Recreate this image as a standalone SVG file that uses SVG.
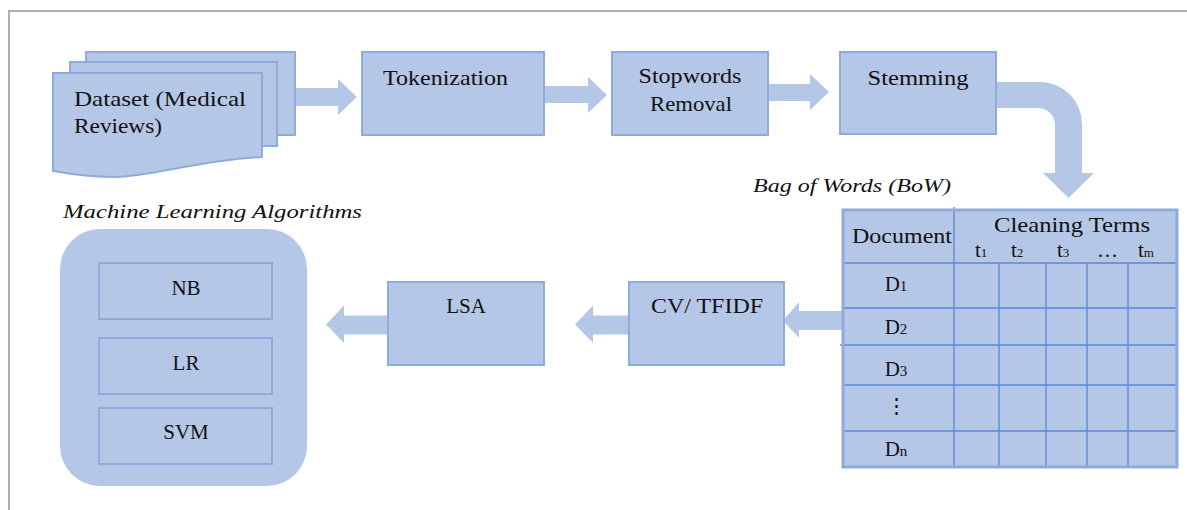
<svg xmlns="http://www.w3.org/2000/svg" width="1187" height="510" viewBox="0 0 1187 510">
<style>
.box{fill:#b4c7e7;stroke:#8faadc;stroke-width:2}
.arr{fill:#b4c7e7;stroke:none}
.t{font-family:"Liberation Serif","Times New Roman",serif;font-size:21px;fill:#111}
.it{font-family:"Liberation Serif","Times New Roman",serif;font-style:italic;font-size:19px;fill:#111}
.grid{stroke:#5b87d6;stroke-width:1.3;fill:none}
.c{text-anchor:middle}
</style>
<rect width="1187" height="510" fill="#fff"/>
<path d="M9,510 V11 H1187" fill="none" stroke="#b0b0b0" stroke-width="2"/>

<g id="connectors">
  <path class="arr" d="M295,88 H338 V79 L357,97 L338,115 V106 H295 Z"/>
  <path class="arr" d="M544,86 H588 V77 L607,95 L588,113 V103 H544 Z"/>
  <path class="arr" d="M768,84 H810 V74 L829,92 L810,110 V101 H768 Z"/>
  <path class="arr" d="M996,82 H1040 A42,42 0 0 1 1082,124 V173 H1094 L1068.5,198 L1043,173 H1055 V125 A17,17 0 0 0 1038,108 H996 Z"/>
  <path class="arr" d="M843,311 H799 V302 L783,320.5 L799,338 V330 H843 Z"/>
  <path class="arr" d="M629,315.5 H593 V305.5 L575,324.5 L593,343 V334.5 H629 Z"/>
  <path class="arr" d="M388,315.5 H344 V305.5 L326,324.5 L344,343 V334.5 H388 Z"/>
</g>

<g id="dataset">
  <rect class="box" x="86" y="52" width="209" height="83"/>
  <rect class="box" x="70" y="62" width="207" height="84"/>
  <path class="box" d="M53,73 H262 V157 C200,160 150,177 115,177 C90,177 70,174 53,171 Z"/>
  <text class="t" x="74" y="106" textLength="172" lengthAdjust="spacingAndGlyphs">Dataset (Medical</text>
  <text class="t" x="74" y="133" textLength="88" lengthAdjust="spacingAndGlyphs">Reviews)</text>
</g>

<g id="tokenization">
  <rect class="box" x="362" y="52" width="182" height="83"/>
  <text class="t" x="383" y="85" textLength="125" lengthAdjust="spacingAndGlyphs">Tokenization</text>
</g>

<g id="stopwords">
  <rect class="box" x="612" y="52" width="156" height="83"/>
  <text class="t c" x="690" y="83" textLength="103" lengthAdjust="spacingAndGlyphs">Stopwords</text>
  <text class="t c" x="691" y="111" textLength="82" lengthAdjust="spacingAndGlyphs">Removal</text>
</g>

<g id="stemming">
  <rect class="box" x="840" y="52" width="156" height="82"/>
  <text class="t c" x="918" y="85" textLength="101" lengthAdjust="spacingAndGlyphs">Stemming</text>
</g>

<g id="bow">
  <text class="it" x="753" y="192" textLength="198" lengthAdjust="spacingAndGlyphs">Bag of Words (BoW)</text>
  <rect x="843" y="210" width="334" height="257" fill="#b4c7e7"/>
  <path class="grid" d="M843,263 H1177 M843,308 H1177 M840,345 H1177 M843,385 H1177 M843,431 H1177 M954,207 V467 M999,263 V467 M1046,263 V467 M1087,263 V467 M1128,263 V467"/>
  <rect x="843" y="210" width="334" height="257" fill="none" stroke="#8faadc" stroke-width="3"/>
  <text class="t" x="852" y="243" textLength="100" lengthAdjust="spacingAndGlyphs">Document</text>
  <text class="t" x="994" y="232" textLength="156" lengthAdjust="spacingAndGlyphs">Cleaning Terms</text>
  <text class="t" x="975" y="257" font-size="18">t<tspan font-size="13">1</tspan></text>
  <text class="t" x="1011" y="257" font-size="18">t<tspan font-size="13">2</tspan></text>
  <text class="t" x="1057" y="257" font-size="18">t<tspan font-size="13">3</tspan></text>
  <text class="t" x="1097" y="257" font-size="18">…</text>
  <text class="t" x="1138" y="257" font-size="18">t<tspan font-size="13">m</tspan></text>
  <text class="t c" x="896" y="291">D<tspan font-size="15">1</tspan></text>
  <text class="t c" x="896" y="334">D<tspan font-size="15">2</tspan></text>
  <text class="t c" x="896" y="376">D<tspan font-size="15">3</tspan></text>
  <text class="t c" x="896" y="413">⋮</text>
  <text class="t c" x="896" y="456">D<tspan font-size="15">n</tspan></text>
</g>

<g id="cv-tfidf">
  <rect class="box" x="629" y="282" width="155" height="83"/>
  <text class="t c" x="707" y="313" textLength="112" lengthAdjust="spacingAndGlyphs">CV/ TFIDF</text>
</g>

<g id="lsa">
  <rect class="box" x="388" y="282" width="156" height="83"/>
  <text class="t c" x="466" y="313">LSA</text>
</g>

<g id="ml">
  <text class="it" x="63" y="218" textLength="299" lengthAdjust="spacingAndGlyphs">Machine Learning Algorithms</text>
  <rect x="60" y="229" width="247" height="257" rx="40" fill="#b4c7e7"/>
  <g id="nb">
    <rect class="box" x="99" y="263" width="173" height="56"/>
    <text class="t c" x="186" y="295">NB</text>
  </g>
  <g id="lr">
    <rect class="box" x="99" y="338" width="173" height="56"/>
    <text class="t c" x="186" y="370">LR</text>
  </g>
  <g id="svm">
    <rect class="box" x="99" y="408" width="173" height="56"/>
    <text class="t c" x="186" y="439">SVM</text>
  </g>
</g>
</svg>
